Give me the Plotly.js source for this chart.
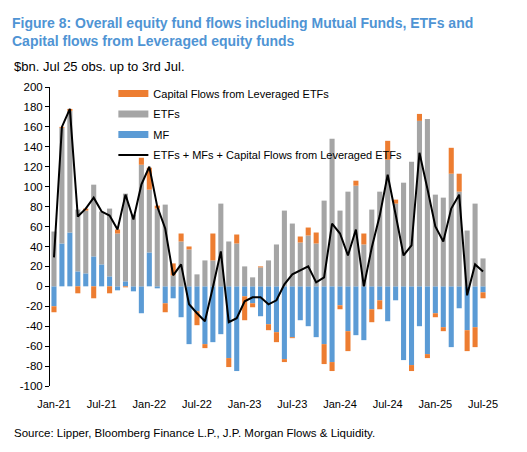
<!DOCTYPE html>
<html>
<head>
<meta charset="utf-8">
<script src="https://cdn.plot.ly/plotly-3.0.1.min.js"></script>
<style>html,body{margin:0;padding:0;background:#fff;}#chart{width:527px;height:452px;}</style>
</head>
<body>
<div id="chart"></div>
<script>
// Monthly categories, Jan-21 .. Jul-25
const months = [
  'Jan-21','Feb-21','Mar-21','Apr-21','May-21','Jun-21','Jul-21','Aug-21','Sep-21','Oct-21','Nov-21','Dec-21',
  'Jan-22','Feb-22','Mar-22','Apr-22','May-22','Jun-22','Jul-22','Aug-22','Sep-22','Oct-22','Nov-22','Dec-22',
  'Jan-23','Feb-23','Mar-23','Apr-23','May-23','Jun-23','Jul-23','Aug-23','Sep-23','Oct-23','Nov-23','Dec-23',
  'Jan-24','Feb-24','Mar-24','Apr-24','May-24','Jun-24','Jul-24','Aug-24','Sep-24','Oct-24','Nov-24','Dec-24',
  'Jan-25','Feb-25','Mar-25','Apr-25','May-25','Jun-25','Jul-25'
];
// $bn flows
const mfFlows = [
  -20, 43, 54, 15, 13, 30, 22, 10, -4, 5, -5, -27,
  34, -2, -17, -12, -31, -58, -25, -58, -56, -48, -72, -85,
  -10, -17, -30, -38, -46, -73, -51, -34, -40, -51, -58, -76,
  -19, -45, -49, -54, -23, -14, -35, -14, -74, -79, -40, -68,
  -27, -41, -61, -22, -44, -41, -6
];
const etfFlows = [
  55, 116, 122, 62, 63, 72, 53, 68, 53, 88, 72, 122,
  63, 78, 82, 11, 45, 37, 12, 26, 26, 83, 45, 43,
  20, 9, 19, 26, 42, 76, 63, 44, 51, 43, 86, 148,
  76, 95, 101, 42, 77, 95, 127, 83, 104, 125, 166, 168,
  92, 89, 113, 95, 56, 83, 28
];
const levCapFlows = [
  -6, 1, 2, -7, 2, -12, 0, -7, 4, -1, 0, 7,
  22, 3, -9, 12, 8, 3, -14, -4, 27, 0, -9, 9,
  -24, -4, 1, -6, -10, -3, -1, 6, 8, 11, -20, -9,
  -4, -20, 5, 11, -13, -9, 19, 4, 0, -6, 7, -4,
  -4, -4, 26, 18, -21, -20, -6
];
const totalFlows = [
  29, 160, 178, 70, 78, 89, 75, 71, 57, 92, 67, 102,
  120, 80, 58, 11, 22, -18, -27, -35, -1, 35, -36, -32,
  -15, -11, -11, -18, -14, 2, 12, 16, 20, 4, 9, 63,
  53, 31, 57, 0, 39, 71, 112, 72, 31, 41, 134, 98,
  60, 45, 78, 92, -9, 22, 15
];
const xTickVals = ['Jan-21','Jul-21','Jan-22','Jul-22','Jan-23','Jul-23','Jan-24','Jul-24','Jan-25','Jul-25'];
const yTickVals = [-100,-80,-60,-40,-20,0,20,40,60,80,100,120,140,160,180,200];
const yTickText = ['-100','-80','-60','-40','-20','0','20','40','60','80','100','120','140','160','180','200'];

const seriesNames = {
  cap: 'Capital Flows from Leveraged ETFs',
  etf: 'ETFs',
  mf: 'MF',
  total: 'ETFs + MFs + Capital Flows from Leveraged ETFs'
};
const colors = {cap: '#ED7D31', etf: '#A5A5A5', mf: '#5B9BD5', total: '#000000'};

const FONT = '"Liberation Sans", Arial, sans-serif';

const traces = [
  // legend-only entries with wide swatches (bars keep their own data below)
  {type: 'scatter', mode: 'lines', name: seriesNames.cap, x: [null], y: [null], line: {color: colors.cap, width: 7}, legendgroup: 'cap', legendrank: 1, hoverinfo: 'skip'},
  {type: 'scatter', mode: 'lines', name: seriesNames.etf, x: [null], y: [null], line: {color: colors.etf, width: 7}, legendgroup: 'etf', legendrank: 2, hoverinfo: 'skip'},
  {type: 'scatter', mode: 'lines', name: seriesNames.mf, x: [null], y: [null], line: {color: colors.mf, width: 7}, legendgroup: 'mf', legendrank: 3, hoverinfo: 'skip'},
  {type: 'bar', name: seriesNames.mf, x: months, y: mfFlows, marker: {color: colors.mf}, showlegend: false, legendgroup: 'mf'},
  {type: 'bar', name: seriesNames.etf, x: months, y: etfFlows, marker: {color: colors.etf}, showlegend: false, legendgroup: 'etf'},
  {type: 'bar', name: seriesNames.cap, x: months, y: levCapFlows, marker: {color: colors.cap}, showlegend: false, legendgroup: 'cap'},
  {type: 'scatter', mode: 'lines', name: seriesNames.total, x: months, y: totalFlows, line: {color: colors.total, width: 2}, legendgroup: 'total', legendrank: 4}
];

const layout = {
  width: 527, height: 452,
  margin: {l: 50, r: 40, t: 87, b: 66},
  paper_bgcolor: '#ffffff', plot_bgcolor: '#ffffff',
  font: {family: FONT, size: 11, color: '#000'},
  barmode: 'relative',
  bargap: 0.36,
  title: {
    text: '<b>Figure 8: Overall equity fund flows including Mutual Funds, ETFs and<br>Capital flows from Leveraged equity funds</b>',
    font: {family: FONT, size: 14, color: '#4F94D4'},
    x: 12/527, xanchor: 'left', xref: 'container',
    y: 1 - 28/452, yanchor: 'top', yref: 'container'
  },
  xaxis: {
    type: 'category', categoryorder: 'array', categoryarray: months,
    range: [-0.5, months.length - 0.5],
    tickmode: 'array', tickvals: xTickVals, ticktext: xTickVals,
    ticks: 'outside', ticklen: 8, tickcolor: 'rgba(0,0,0,0)',
    showline: false, showgrid: false, zeroline: false,
    tickfont: {family: FONT, size: 11, color: '#000'}
  },
  xaxis2: {
    overlaying: 'x', type: 'linear', anchor: 'free', position: 1/3,
    range: [-0.5, months.length - 0.5],
    tickmode: 'linear', tick0: 2.5, dtick: 3,
    ticks: 'outside', ticklen: 3, tickwidth: 1, tickcolor: '#000',
    showticklabels: false, showline: true, linecolor: '#000', linewidth: 1.5,
    showgrid: false, zeroline: false, fixedrange: true
  },
  yaxis: {
    range: [-100, 200],
    tickmode: 'array', tickvals: yTickVals, ticktext: yTickText,
    ticks: 'outside', ticklen: 4, tickcolor: '#000', tickwidth: 1,
    showline: true, linecolor: '#000', linewidth: 1,
    showgrid: false, zeroline: false,
    tickfont: {family: FONT, size: 11.5, color: '#000'}
  },
  legend: {
    x: 0.145, xanchor: 'left', y: 1.027, yanchor: 'top',
    bgcolor: 'rgba(0,0,0,0)', borderwidth: 0,
    font: {family: FONT, size: 11, color: '#000'},
    traceorder: 'grouped', tracegroupgap: 1.5
  },
  annotations: [
    {text: '$bn. Jul 25 obs. up to 3rd Jul.', xref: 'paper', yref: 'paper', x: (12-50)/437, y: (386-66)/299,
     xanchor: 'left', yanchor: 'middle', showarrow: false, font: {family: FONT, size: 13, color: '#000'}},
    {text: 'Source: Lipper, Bloomberg Finance L.P., J.P. Morgan Flows &amp; Liquidity.', xref: 'paper', yref: 'paper',
     x: (12-50)/437, y: (386-433)/299, xanchor: 'left', yanchor: 'middle', showarrow: false,
     font: {family: FONT, size: 11.5, color: '#000'}}
  ]
};

Plotly.newPlot('chart', traces, layout, {displayModeBar: false, staticPlot: true});
</script>
</body>
</html>
